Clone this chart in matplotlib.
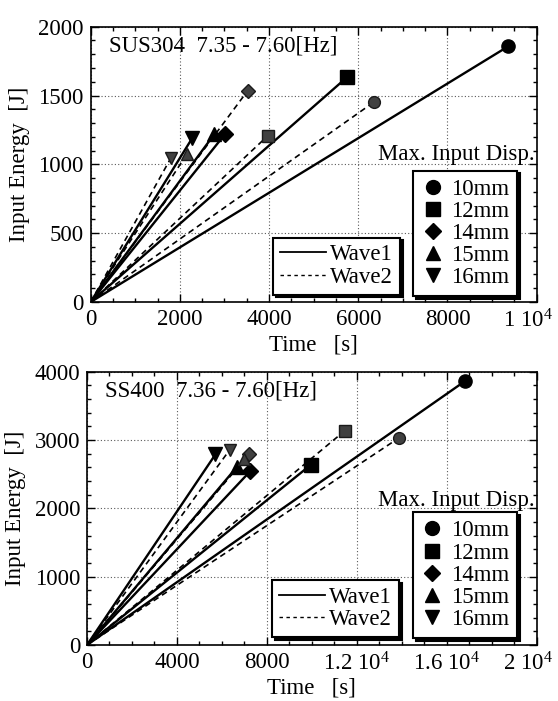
import matplotlib
matplotlib.use("Agg")
import matplotlib.pyplot as plt
from matplotlib.lines import Line2D
from matplotlib.ticker import MultipleLocator
from matplotlib.transforms import ScaledTranslation

plt.rcParams["font.family"] = ["Liberation Serif", "DejaVu Serif"]
plt.rcParams["mathtext.fontset"] = "custom"
plt.rcParams["mathtext.rm"] = "Liberation Serif"
plt.rcParams["mathtext.it"] = "Liberation Serif"

# Déplacements max. (légende) et marqueurs associés
disp_labels = ["10mm", "12mm", "14mm", "15mm", "16mm"]
marqueurs = ["o", "s", "D", "^", "v"]

# SUS304 : point final de chaque essai (temps [s], énergie [J])
sus_w1_t = [9360, 5744, 3016, 2776, 2280]
sus_w1_e = [1857, 1632, 1221, 1221, 1192]
sus_w2_t = [6344, 3976, 3520, 2160, 1800]
sus_w2_e = [1451, 1209, 1535, 1076, 1047]

# SS400
ss_w1_t = [16825, 9968, 7270, 6667, 5714]
ss_w1_e = [3865, 2640, 2547, 2606, 2790]
ss_w2_t = [13857, 11476, 7222, 7000, 6349]
ss_w2_e = [3027, 3138, 2799, 2720, 2857]

sus_xticks = [0, 2000, 4000, 6000, 8000, 10000]
sus_xlabels = ["0", "2000", "4000", "6000", "8000", "1 10$^4$"]
ss_xticks = [0, 4000, 8000, 12000, 16000, 20000]
ss_xlabels = ["0", "4000", "8000", "1.2 10$^4$", "1.6 10$^4$", "2 10$^4$"]

FS = 16.5


def tracer(ax, w1_t, w1_e, w2_t, w2_e):
    for t, e, m in zip(w1_t, w1_e, marqueurs):
        ax.plot([0, t], [0, e], color="black", lw=1.7, marker=m, markevery=[1],
                ms=9.5 if m != "D" else 8, mfc="black", mec="black", zorder=3)
    for t, e, m in zip(w2_t, w2_e, marqueurs):
        ax.plot([0, t], [0, e], color="black", lw=1.2, ls=(0, (3.5, 2.5)),
                marker=m, markevery=[1], ms=8.5 if m != "D" else 7,
                mfc="0.25", mec="0.1", zorder=3)


def habiller(fig, ax, xmax, ymax, xmin, ymaj, ymin, xticks, xlabels, titre,
             max_y, box_mark, box_wave):
    ax.set_xlim(0, xmax)
    ax.set_ylim(0, ymax)
    ax.set_xticks(xticks)
    ax.set_xticklabels(xlabels)
    ax.xaxis.set_minor_locator(MultipleLocator(xmin))
    ax.yaxis.set_major_locator(MultipleLocator(ymaj))
    ax.yaxis.set_minor_locator(MultipleLocator(ymin))
    ax.tick_params(which="both", direction="in", top=True, right=True,
                   labelsize=FS, width=1.0)
    ax.tick_params(which="major", length=6, pad=5)
    ax.tick_params(which="minor", length=3)
    for s in ax.spines.values():
        s.set_linewidth(1.2)
    ax.grid(True, which="major", color="0.35", ls=(0, (1, 2)), lw=0.8)
    ax.set_axisbelow(True)

    # le dernier libellé déborde sinon du bord droit
    dernier = ax.get_xticklabels()[-1]
    dernier.set_transform(dernier.get_transform()
                          + ScaledTranslation(-6 / 72, 0, fig.dpi_scale_trans))

    ax.set_xlabel("Time   [s]", fontsize=FS, labelpad=2)
    ax.set_ylabel("Input Energy  [J]", fontsize=FS)
    ax.yaxis.set_label_coords(-0.135, 0.5)

    ax.text(0.04, 0.93, titre, transform=ax.transAxes, fontsize=FS,
            ha="left", va="center")
    ax.text(0.995, max_y, "Max. Input Disp.", transform=ax.transAxes,
            fontsize=FS, ha="right", va="center")

    poignees = [Line2D([], [], ls="none", marker=m, color="black",
                       ms=10 if m != "D" else 8) for m in marqueurs]
    leg1 = ax.legend(poignees, disp_labels, loc="lower left",
                     bbox_to_anchor=box_mark, fontsize=FS, frameon=True,
                     fancybox=False, edgecolor="black", framealpha=1,
                     handletextpad=0.3, labelspacing=0.05, borderpad=0.35,
                     handlelength=1.0, borderaxespad=0,
                     shadow={"color": "black", "alpha": 1})
    leg1.get_frame().set_linewidth(1.5)
    ax.add_artist(leg1)

    ondes = [Line2D([], [], color="black", lw=1.3),
             Line2D([], [], color="black", lw=1.0, ls=(0, (2.5, 2.5)))]
    leg2 = ax.legend(ondes, ["Wave1", "Wave2"], loc="lower left",
                     bbox_to_anchor=box_wave, fontsize=FS, frameon=True,
                     fancybox=False, edgecolor="black", framealpha=1,
                     handletextpad=0.2, labelspacing=0.05, borderpad=0.3,
                     handlelength=2.0, borderaxespad=0,
                     shadow={"color": "black", "alpha": 1})
    leg2.get_frame().set_linewidth(1.5)


fig = plt.figure(figsize=(5.58, 7.01), dpi=100)

ax1 = fig.add_axes([0.1625, 0.5692, 0.7993, 0.3927])
tracer(ax1, sus_w1_t, sus_w1_e, sus_w2_t, sus_w2_e)
habiller(fig, ax1, 10000, 2000, 500, 500, 100, sus_xticks, sus_xlabels,
         "SUS304  7.35 - 7.60[Hz]", 0.535, (0.723, 0.02), (0.409, 0.027))

ax2 = fig.add_axes([0.1559, 0.0799, 0.8059, 0.3899])
tracer(ax2, ss_w1_t, ss_w1_e, ss_w2_t, ss_w2_e)
habiller(fig, ax2, 20000, 4000, 1000, 1000, 200, ss_xticks, ss_xlabels,
         "SS400  7.36 - 7.60[Hz]", 0.53, (0.725, 0.025), (0.411, 0.03))

fig.savefig("out.png", dpi=100)
plt.close(fig)
